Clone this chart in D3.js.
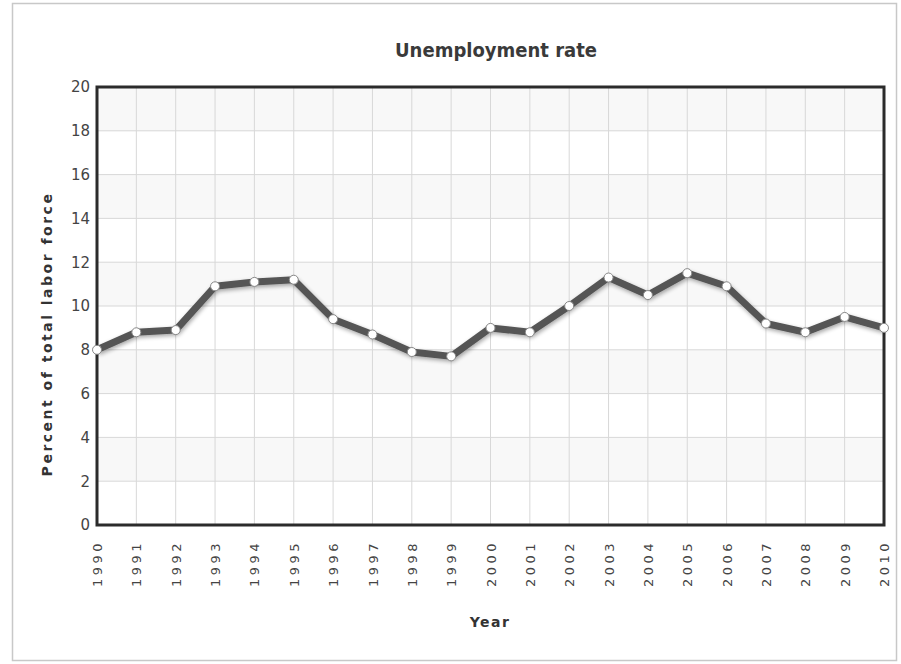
<!DOCTYPE html>
<html>
<head>
<meta charset="utf-8">
<script src="https://cdn.jsdelivr.net/npm/d3@7"></script>
<style>
  body { margin: 0; background: #fff; }
  svg { display: block; }
</style>
</head>
<body>
<div id="chart"></div>
<script>
var years = [1990, 1991, 1992, 1993, 1994, 1995, 1996, 1997, 1998, 1999, 2000,
             2001, 2002, 2003, 2004, 2005, 2006, 2007, 2008, 2009, 2010];
var rates = [8.0, 8.8, 8.9, 10.9, 11.1, 11.2, 9.4, 8.7, 7.9, 7.7, 9.0,
             8.8, 10.0, 11.3, 10.5, 11.5, 10.9, 9.2, 8.8, 9.5, 9.0];
var yTicks = [0, 2, 4, 6, 8, 10, 12, 14, 16, 18, 20];

var width = 901, height = 664;
var margin = {top: 87, right: 17, bottom: 139, left: 97},
    width_g = width - margin.left - margin.right,
    height_g = height - margin.top - margin.bottom;

var svg = d3.select("#chart").append("svg")
    .attr("width", width)
    .attr("height", height);

// outer frame
svg.append("rect")
    .attr("x", 12.5).attr("y", 3.5)
    .attr("width", 884).attr("height", 657)
    .attr("fill", "#fff")
    .attr("stroke", "#c8c8c8")
    .attr("stroke-width", 1.5);

var defs = svg.append("defs");
var shadow = defs.append("filter").attr("id", "shadow")
    .attr("x", "-10%").attr("y", "-30%").attr("width", "120%").attr("height", "160%");
shadow.append("feGaussianBlur").attr("in", "SourceAlpha").attr("stdDeviation", 2);
shadow.append("feOffset").attr("dx", 1).attr("dy", 2).attr("result", "blur");
shadow.append("feComponentTransfer").append("feFuncA").attr("type", "linear").attr("slope", 0.35);
var merge = shadow.append("feMerge");
merge.append("feMergeNode");
merge.append("feMergeNode").attr("in", "SourceGraphic");

var x = d3.scalePoint()
    .domain(years)
    .range([0, width_g]);
var y = d3.scaleLinear()
    .domain([0, 20])
    .range([height_g, 0]);

var frg = svg.append("g")
    .attr("transform", "translate(" + margin.left + "," + margin.top + ")");

// alternating bands
frg.append("g").selectAll("rect")
    .data(yTicks.filter(function (d, i) { return i % 2 == 1; }))
    .enter().append("rect")
    .attr("x", 0)
    .attr("width", width_g)
    .attr("y", function (d) { return y(d + 2); })
    .attr("height", function (d) { return y(d) - y(d + 2); })
    .attr("fill", "#f8f8f8");

// grid
frg.append("g").selectAll("line")
    .data(yTicks)
    .enter().append("line")
    .attr("x1", 0).attr("x2", width_g)
    .attr("y1", function (d) { return y(d); })
    .attr("y2", function (d) { return y(d); })
    .attr("stroke", "#d8d8d8");
frg.append("g").selectAll("line")
    .data(years)
    .enter().append("line")
    .attr("y1", 0).attr("y2", height_g)
    .attr("x1", function (d) { return x(d); })
    .attr("x2", function (d) { return x(d); })
    .attr("stroke", "#d8d8d8");

// plot frame
frg.append("rect")
    .attr("width", width_g).attr("height", height_g)
    .attr("fill", "none")
    .attr("stroke", "#2b2b2b")
    .attr("stroke-width", 3);

// axes
var yAxis = d3.axisLeft(y).tickValues(yTicks).tickSize(0).tickPadding(7);
var gy = frg.append("g").attr("class", "axis yaxis").call(yAxis);
gy.select(".domain").remove();
gy.selectAll("text")
    .attr("font-family", "DejaVu Sans, Verdana, sans-serif")
    .attr("font-size", 15)
    .attr("fill", "#444");

var xAxis = d3.axisBottom(x).tickSize(0).tickPadding(0);
var gx = frg.append("g").attr("class", "axis xaxis")
    .attr("transform", "translate(0," + height_g + ")")
    .call(xAxis);
gx.select(".domain").remove();
gx.selectAll("text")
    .attr("font-family", "DejaVu Sans, Verdana, sans-serif")
    .attr("font-size", 13)
    .attr("fill", "#444")
    .attr("letter-spacing", 3.5)
    .attr("transform", "rotate(-90)")
    .attr("text-anchor", "end")
    .attr("x", -15)
    .attr("y", 0)
    .attr("dy", "0.35em");

// line
var line = d3.line()
    .x(function (d, i) { return x(years[i]); })
    .y(function (d) { return y(d); });

frg.append("path")
    .datum(rates)
    .attr("d", line)
    .attr("fill", "none")
    .attr("stroke", "#555")
    .attr("stroke-width", 7)
    .attr("stroke-linejoin", "round")
    .attr("filter", "url(#shadow)");

frg.append("g").selectAll("circle")
    .data(rates)
    .enter().append("circle")
    .attr("cx", function (d, i) { return x(years[i]); })
    .attr("cy", function (d) { return y(d); })
    .attr("r", 4.5)
    .attr("fill", "#fff")
    .attr("stroke", "#888")
    .attr("stroke-width", 1);

// titles
svg.append("text")
    .attr("x", 496).attr("y", 57)
    .attr("text-anchor", "middle")
    .attr("font-family", "DejaVu Sans Condensed, DejaVu Sans, sans-serif")
    .attr("font-weight", "bold")
    .attr("font-size", 20)
    .attr("fill", "#3a3a3a")
    .text("Unemployment rate");

svg.append("text")
    .attr("x", 490).attr("y", 627)
    .attr("text-anchor", "middle")
    .attr("font-family", "DejaVu Sans, Verdana, sans-serif")
    .attr("font-weight", "bold")
    .attr("font-size", 14)
    .attr("letter-spacing", 1.5)
    .attr("fill", "#333")
    .text("Year");

svg.append("text")
    .attr("transform", "translate(52,334) rotate(-90)")
    .attr("text-anchor", "middle")
    .attr("font-family", "DejaVu Sans, Verdana, sans-serif")
    .attr("font-weight", "bold")
    .attr("font-size", 14)
    .attr("letter-spacing", 2.5)
    .attr("fill", "#333")
    .text("Percent of total labor force");
</script>
</body>
</html>
